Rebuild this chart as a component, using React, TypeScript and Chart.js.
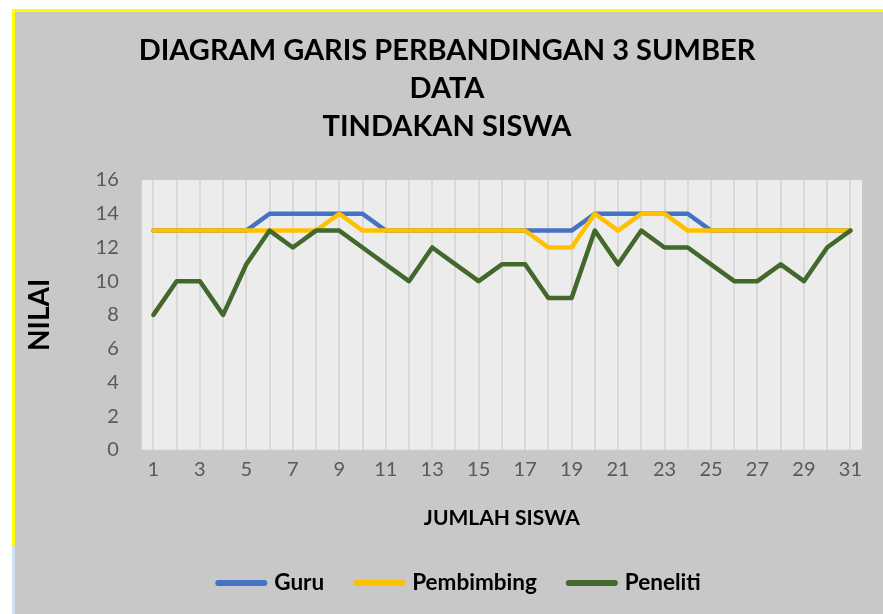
import React, { useEffect, useRef } from "react";
import { Chart, registerables } from "chart.js";

Chart.register(...registerables);

const categories = ["1","2","3","4","5","6","7","8","9","10","11","12","13","14","15","16","17","18","19","20","21","22","23","24","25","26","27","28","29","30","31"];
const guru = [13,13,13,13,13,14,14,14,14,14,13,13,13,13,13,13,13,13,13,14,14,14,14,14,13,13,13,13,13,13,13];
const pembimbing = [13,13,13,13,13,13,13,13,14,13,13,13,13,13,13,13,13,12,12,14,13,14,14,13,13,13,13,13,13,13,13];
const peneliti = [8,10,10,8,11,13,12,13,13,12,11,10,12,11,10,11,11,9,9,13,11,13,12,12,11,10,10,11,10,12,13];
const titleLines = ["DIAGRAM GARIS PERBANDINGAN 3 SUMBER", "DATA", "TINDAKAN SISWA"];
const xTitle = "JUMLAH SISWA";
const yTitle = "NILAI";
const yMin = 0;
const yMax = 16;
const yStep = 2;

const FONT = "Lato";

const plotBg = {
  id: "plotBg",
  beforeDraw(chart: any) {
    const { ctx, chartArea } = chart;
    if (!chartArea) return;
    ctx.save();
    ctx.fillStyle = "#ececec";
    ctx.fillRect(chartArea.left, chartArea.top, chartArea.right - chartArea.left, chartArea.bottom - chartArea.top);
    ctx.restore();
  },
};

const customTitle = {
  id: "customTitle",
  afterDraw(chart: any) {
    const { ctx } = chart;
    ctx.save();
    ctx.font = `bold 29px ${FONT}`;
    ctx.fillStyle = "#000000";
    ctx.textAlign = "center";
    ctx.textBaseline = "middle";
    const cx = 432;
    const y0 = 39;
    const lh = 37.8;
    titleLines.forEach((t, i) => ctx.fillText(t, cx, y0 + i * lh));
    ctx.restore();
  },
};

const customLegend = {
  id: "customLegend",
  afterDraw(chart: any) {
    const { ctx } = chart;
    const ds = chart.data.datasets;
    const boxW = 52;
    const gap = 7;
    const itemGap = 29;
    const cx = 443;
    const cy = 571;
    ctx.save();
    ctx.font = `bold 22.5px ${FONT}`;
    const widths = ds.map((d: any) => ctx.measureText(d.label).width);
    let total = 0;
    widths.forEach((w: number) => (total += boxW + gap + w));
    total += itemGap * (ds.length - 1);
    let x = cx - total / 2;
    ds.forEach((d: any, i: number) => {
      ctx.strokeStyle = d.borderColor;
      ctx.lineWidth = 6;
      ctx.lineCap = "round";
      ctx.beginPath();
      ctx.moveTo(x + 3, cy);
      ctx.lineTo(x + boxW - 3, cy);
      ctx.stroke();
      x += boxW + gap;
      ctx.fillStyle = "#000000";
      ctx.textBaseline = "middle";
      ctx.textAlign = "left";
      ctx.fillText(d.label, x, cy);
      x += widths[i] + itemGap;
    });
    ctx.restore();
  },
};

export default function App() {
  const ref = useRef<HTMLCanvasElement | null>(null);
  useEffect(() => {
    if (!ref.current) return;
    const mk = (label: string, data: number[], color: string, order: number) => ({
      label,
      data,
      borderColor: color,
      backgroundColor: color,
      borderWidth: 4.5,
      pointRadius: 0,
      tension: 0,
      order,
      borderJoinStyle: "round" as const,
      borderCapStyle: "round" as const,
    });
    const chart = new Chart(ref.current, {
      type: "line",
      data: {
        labels: categories,
        datasets: [
          mk("Guru", guru, "#4472c4", 3),
          mk("Pembimbing", pembimbing, "#ffc000", 2),
          mk("Peneliti", peneliti, "#43682b", 1),
        ],
      },
      options: {
        responsive: false,
        animation: false,
        devicePixelRatio: 1,
        layout: { padding: { left: 0, right: 21, top: 168, bottom: 83 } },
        plugins: {
          tooltip: { enabled: false },
          title: { display: false },
          legend: { display: false },
        },
        scales: {
          x: {
            type: "category",
            offset: true,
            grid: { display: true, offset: false, color: "#d9d9d9", lineWidth: 2, drawTicks: false },
            border: { display: false },
            ticks: {
              color: "#595959",
              font: { family: FONT, size: 20 },
              padding: 8,
              autoSkip: false,
              maxRotation: 0,
              callback: (_v: any, i: number) => (i % 2 === 0 ? categories[i] : ""),
            },
            title: {
              display: true,
              text: xTitle,
              color: "#000000",
              font: { family: FONT, size: 21, weight: "bold" },
              padding: { top: 16, bottom: 0 },
            },
          },
          y: {
            min: yMin,
            max: yMax,
            grid: { display: false, drawTicks: false },
            border: { display: false },
            ticks: {
              stepSize: yStep,
              color: "#595959",
              font: { family: FONT, size: 20 },
              padding: 23,
            },
            title: {
              display: true,
              text: yTitle,
              color: "#000000",
              font: { family: FONT, size: 28, weight: "bold" },
              padding: { top: 8, bottom: 16 },
            },
          },
        },
      },
      plugins: [plotBg, customTitle, customLegend],
    });
    return () => chart.destroy();
  }, []);

  return (
    <div style={{ position: "fixed", left: 0, top: 0, width: 883, height: 614, background: "#ffffff", overflow: "hidden" }}>
      <div
        style={{
          position: "absolute",
          left: 12,
          top: 9,
          width: 871,
          height: 605,
          boxSizing: "border-box",
          borderTop: "3px solid #ffff00",
          borderLeft: "3px solid #ffff00",
          background: "#c8c8c8",
        }}
      />
      <div style={{ position: "absolute", left: 12, top: 545, width: 3, height: 69, background: "#cfe0f3" }} />
      <canvas ref={ref} width={868} height={602} style={{ position: "absolute", left: 15, top: 12, width: 868, height: 602 }} />
    </div>
  );
}
